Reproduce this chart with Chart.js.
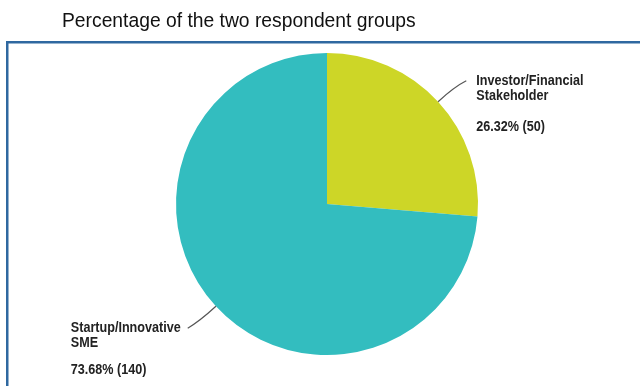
<!DOCTYPE html>
<html>
<head>
<meta charset="utf-8">
<script src="https://cdn.jsdelivr.net/npm/chart.js@4.4.0/dist/chart.umd.min.js"></script>
<style>
  html, body { margin: 0; padding: 0; background: #fff; }
  #wrap { width: 640px; height: 386px; position: relative; }
</style>
</head>
<body>
<div id="wrap"><canvas id="grafico" width="640" height="386"></canvas></div>
<script>
// data
var titulo = "Percentage of the two respondent groups";
var grupos = [["Investor/Financial", "Stakeholder"], ["Startup/Innovative", "SME"]];
var respostas = [50, 140];
var percentuais = ["26.32%", "73.68%"];
var cores = ["#cdd627", "#33bdbf"];

// titulo e moldura azul
var molduraPlugin = {
    id: 'moldura',
    afterDraw: function (chart) {
        var ctx = chart.ctx;
        ctx.save();
        ctx.fillStyle = "#111";
        ctx.font = '19.3px "Liberation Sans", Arial, sans-serif';
        ctx.textBaseline = "alphabetic";
        ctx.textAlign = "left";
        ctx.fillText(titulo, 62, 27);

        ctx.strokeStyle = "#2f68a0";
        ctx.lineWidth = 2.5;
        ctx.beginPath();
        ctx.moveTo(7.25, 390);
        ctx.lineTo(7.25, 42.25);
        ctx.lineTo(645, 42.25);
        ctx.stroke();
        ctx.restore();
    }
};

// rotulos com linha de ligacao (fonte estreita simulada com escala horizontal)
var estreito = 0.9;
var rotulosPlugin = {
    id: 'rotulos',
    afterDatasetsDraw: function (chart) {
        var ctx = chart.ctx;
        var meta = chart.getDatasetMeta(0);
        var desloc = [[0, 15, 46], [0, 15, 42]];
        ctx.save();
        meta.data.forEach(function (arc, i) {
            var p = arc.getProps(['x', 'y', 'startAngle', 'endAngle', 'outerRadius'], true);
            var meio = (p.startAngle + p.endAngle) / 2;
            var cos = Math.cos(meio), sin = Math.sin(meio);
            var x0 = p.x + cos * p.outerRadius, y0 = p.y + sin * p.outerRadius;
            var xc = p.x + cos * (p.outerRadius + 22), yc = p.y + sin * (p.outerRadius + 22);
            var lado = cos >= 0 ? 1 : -1;
            var x1 = xc + lado * 12;
            var y1 = sin < 0 ? yc - 6 : yc + 7;

            ctx.strokeStyle = "#555";
            ctx.lineWidth = 1.2;
            ctx.beginPath();
            ctx.moveTo(x0, y0);
            ctx.quadraticCurveTo(xc, yc, x1, y1);
            ctx.stroke();

            ctx.fillStyle = "#222";
            ctx.font = 'bold 14px "Liberation Sans", Arial, sans-serif';
            ctx.textBaseline = "middle";
            ctx.textAlign = "left";
            var linhas = [grupos[i][0], grupos[i][1], percentuais[i] + " (" + respostas[i] + ")"];
            var largura = estreito * Math.max.apply(null, linhas.map(function (l) { return ctx.measureText(l).width; }));
            var xt = lado > 0 ? x1 + 10 : x1 - 7 - largura;
            linhas.forEach(function (l, k) {
                ctx.save();
                ctx.translate(xt, y1 + desloc[i][k]);
                ctx.scale(estreito, 1);
                ctx.fillText(l, 0, 0);
                ctx.restore();
            });
        });
        ctx.restore();
    }
};

var ctx = document.getElementById('grafico').getContext('2d');
var grafico = new Chart(ctx, {
    type: 'pie',
    data: {
        labels: grupos.map(function (g) { return g.join(" "); }),
        datasets: [
            {
                label: "Respondents",
                backgroundColor: cores,
                borderWidth: 0,
                data: respostas
            }
        ]
    },
    options: {
        responsive: false,
        animation: false,
        layout: { padding: { top: 53, bottom: 31, left: 176, right: 162 } },
        plugins: {
            legend: { display: false },
            tooltip: { enabled: false },
            title: { display: false }
        }
    },
    plugins: [rotulosPlugin, molduraPlugin]
});
</script>
</body>
</html>
